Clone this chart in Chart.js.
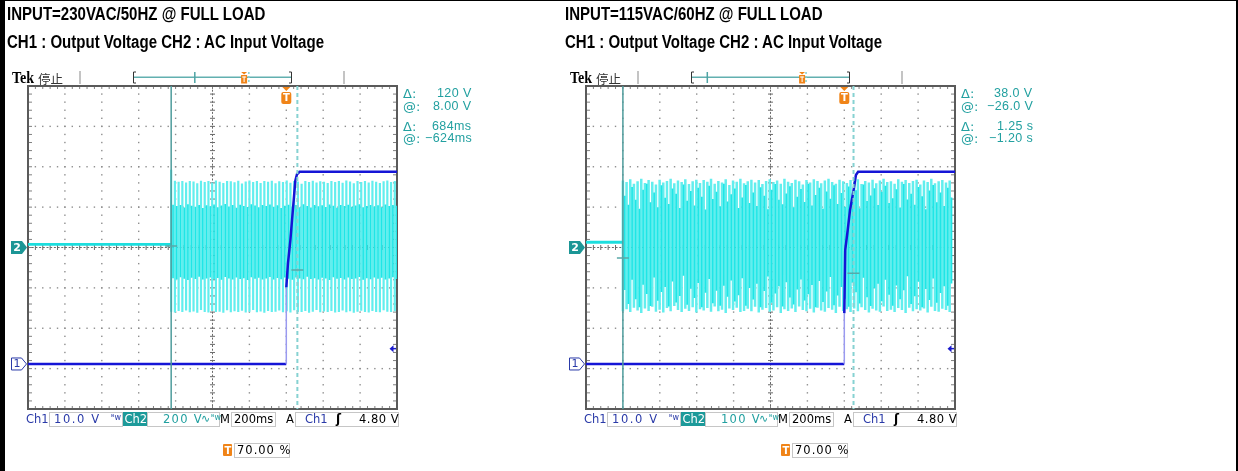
<!DOCTYPE html>
<html>
<head>
<meta charset="utf-8">
<title>Scope captures</title>
<script src="https://cdn.jsdelivr.net/npm/chart.js@4.4.0/dist/chart.umd.min.js"></script>
<style>
  html, body { margin: 0; padding: 0; background: #fff; }
  #page { position: relative; width: 1238px; height: 471px; overflow: hidden; background: #fff; }
  .panel { position: absolute; top: 0; height: 471px; }
  .panel canvas { position: absolute; left: 0; top: 0; }
  .t { position: absolute; white-space: nowrap; font-family: "DejaVu Sans", sans-serif; }
  .box { position: absolute; border: 1px solid #c6c6c6; box-sizing: border-box; }
  .edge { position: absolute; background: #000; }
</style>
</head>
<body>
<div id="page">
  <div class="panel" id="panel1" style="left:0;width:558px"><canvas id="scope1" width="558" height="471"></canvas></div>
  <div class="panel" id="panel2" style="left:558px;width:680px"><canvas id="scope2" width="680" height="471"></canvas></div>
  <div class="edge" style="left:0;top:0;width:5px;height:471px"></div>
  <div class="edge" style="left:0;top:0;width:1238px;height:1px"></div>
  <div class="edge" style="left:1236px;top:0;width:2px;height:471px"></div>
</div>
<script>
// time axis, 200ms/div, trigger at 70%
const timeTicks = [-1.4, -1.2, -1.0, -0.8, -0.6, -0.4, -0.2, 0, 0.2, 0.4, 0.6];
const ch2Ticks230 = [-800, -600, -400, -200, 0, 200, 400, 600, 800];
const ch2Ticks115 = [-400, -300, -200, -100, 0, 100, 200, 300, 400];
const ch1Range = [-11.15, 68.85]; // 10V/div, ground marker 1.1 div above bottom

// CH1 output voltage (V)
const ch1Time230 = [-1.4, 0, 0, 0.009, 0.022, 0.031, 0.040, 0.049, 0.058, 0.072, 0.6];
const ch1Volt230 = [0, 0, 19, 24.9, 30.6, 35.6, 40.5, 45.4, 47.0, 47.6, 47.6];
const ch1Time115 = [-1.4, 0, 0, 0.005, 0.018, 0.031, 0.050, 0.063, 0.075, 0.6];
const ch1Volt115 = [0, 0, 12.6, 28.2, 33, 38.1, 43, 46.8, 47.6, 47.6];

// CH2 before AC is applied (V)
const ch2IdleTime230 = [-1.4, -0.624];
const ch2IdleVolt230 = [15, 15];
const ch2IdleTime115 = [-1.4, -1.2];
const ch2IdleVolt115 = [13, 13];

// CH2 AC input, displayed sample stripes (peak values in V)
const acStart230 = -0.624, acStep230 = 0.0202;
const acTop230 = [385, 331, 326, 329, 322, 330, 327, 318, 331, 325,
  329, 322, 332, 326, 319, 330, 328, 323, 331, 317,
  327, 332, 324, 329, 320, 330, 326, 331, 318, 328,
  325, 332, 321, 329, 327, 316, 330, 324, 331, 322,
  328, 326, 319, 330, 325, 329, 321, 332, 327, 318,
  330, 324, 329, 322, 331, 326, 320, 328, 332, 325, 329];
const acBottom230 = [-318, -322, -315, -320, -312, -321, -317, -323, -310, -319,
  -322, -314, -320, -318, -323, -311, -321, -316, -320, -313,
  -322, -318, -309, -321, -317, -323, -314, -320, -318, -312,
  -321, -316, -322, -311, -319, -320, -315, -323, -318, -310,
  -321, -317, -320, -314, -322, -319, -312, -321, -316, -323,
  -318, -313, -320, -322, -315, -319, -321, -311, -318, -320, -316];
const acInnerTop230 = [212, 205, 210, 198, 214, 207, 202, 211, 196, 209,
  204, 213, 200, 208, 215, 203, 210, 197, 212, 206,
  201, 214, 208, 199, 211, 205, 213, 202, 209, 196,
  207, 212, 203, 210, 200, 214, 206, 198, 211, 204,
  209, 201, 213, 207, 197, 210, 205, 212, 202, 208,
  214, 199, 206, 211, 203, 209, 200, 213, 205, 210, 207];
const acInnerBottom230 = [-152, -158, -147, -155, -161, -150, -156, -145, -159, -153,
  -148, -157, -151, -160, -146, -154, -158, -149, -156, -152,
  -161, -147, -155, -150, -158, -153, -146, -159, -151, -157,
  -149, -155, -160, -148, -153, -157, -145, -156, -152, -159,
  -150, -154, -161, -147, -155, -151, -158, -149, -156, -153,
  -146, -160, -152, -157, -148, -155, -150, -159, -154, -147, -156];

const acStart115 = -1.2, acStep115 = 0.0199;
const acTop115 = [166, 162, 169, 158, 164, 170, 160, 167, 163, 156,
  168, 161, 165, 170, 159, 166, 162, 169, 157, 164,
  168, 160, 167, 163, 170, 158, 165, 161, 169, 155,
  166, 163, 170, 159, 164, 168, 161, 167, 157, 165,
  169, 162, 166, 158, 170, 163, 160, 168, 164, 156,
  167, 161, 169, 165, 159, 166, 170, 162, 158, 168,
  164, 160, 167, 163, 169, 157, 165, 161, 168, 159,
  166, 170, 162, 164, 158, 169, 163, 167, 160, 165,
  168, 156, 166, 162, 170, 159, 164, 167, 161, 166];
const acBottom115 = [-158, -153, -160, -149, -156, -162, -151, -157, -147, -159,
  -154, -161, -150, -158, -145, -155, -160, -152, -157, -148,
  -161, -153, -156, -150, -159, -146, -158, -154, -162, -151,
  -155, -149, -160, -157, -152, -158, -147, -161, -154, -150,
  -159, -156, -148, -162, -153, -157, -151, -160, -146, -155,
  -158, -152, -161, -149, -156, -159, -150, -154, -162, -147,
  -157, -153, -160, -151, -158, -148, -155, -161, -152, -156,
  -159, -146, -157, -154, -160, -150, -155, -162, -149, -158,
  -153, -156, -151, -161, -147, -157, -159, -152, -155, -160];
const acInnerTop115 = [128, 106, 150, 118, 96, 143, 158, 112, 136, 100,
  154, 123, 108, 146, 133, 98, 156, 116, 140, 104,
  148, 126, 94, 153, 120, 138, 102, 158, 114, 132,
  146, 98, 124, 155, 110, 136, 103, 149, 128, 95,
  143, 157, 118, 107, 134, 152, 100, 126, 145, 113,
  158, 104, 130, 148, 96, 139, 121, 154, 108, 135,
  101, 151, 125, 142, 97, 156, 115, 129, 147, 105,
  138, 153, 110, 122, 144, 99, 157, 119, 133, 106,
  150, 127, 95, 141, 155, 112, 136, 103, 148, 124];
const acInnerBottom115 = [-105, -140, -80, -128, -148, -92, -115, -145, -74, -132,
  -110, -98, -146, -84, -136, -120, -70, -142, -102, -125,
  -88, -148, -112, -78, -138, -107, -144, -95, -122, -82,
  -134, -118, -76, -144, -100, -129, -90, -148, -108, -72,
  -137, -114, -96, -146, -86, -124, -141, -104, -79, -131,
  -116, -93, -148, -83, -135, -109, -73, -143, -119, -98,
  -127, -147, -87, -111, -139, -75, -123, -145, -101, -90,
  -133, -80, -117, -144, -94, -128, -106, -71, -140, -121,
  -85, -148, -103, -130, -77, -137, -113, -96, -144, -89];

// cursors: time of bar 1 / bar 2, and waveform value marks
const cursorTime230 = [-0.624, 0.060];
const cursorVolt230 = [8, -112];
const cursorTime115 = [-1.20, 0.05];
const cursorVolt115 = [-26, -64];
const trigLevelMark = 3.8;

// texts
const titles230 = ['INPUT=230VAC/50HZ @ FULL LOAD', 'CH1 : Output Voltage CH2 : AC Input Voltage'];
const titles115 = ['INPUT=115VAC/60HZ @ FULL LOAD', 'CH1 : Output Voltage CH2 : AC Input Voltage'];
const readoutLabels = ['Δ:', '@:', 'Δ:', '@:'];
const readout230 = ['120 V', '8.00 V', '684ms', '−624ms'];
const readout115 = ['38.0 V', '−26.0 V', '1.25 s', '−1.20 s'];
const ch1ScaleText = '10.0 V';
const timeScaleText = '200ms';
const trigText = '4.80 V';
const trigPosText = '70.00 %';

const BLUE = '#2a3aa8', TEAL = '#22a0a0', ORANGE = '#f08418';

function pairs(xs, ys) {
  return xs.map((x, i) => ({x: x, y: ys[i]}));
}
function stripes(t0, dt, tops, bottoms) {
  const pts = [];
  const n = Math.min(tops.length, bottoms.length);
  for (let i = 0; i < n; i++) {
    const t = t0 + i * dt;
    pts.push({x: t, y: tops[i]}, {x: t, y: bottoms[i]}, {x: t, y: null});
  }
  return pts;
}

// oscilloscope graticule
const scopeGrid = {
  id: 'scopeGrid',
  beforeDatasetsDraw(chart, args, opts) {
    const {ctx, chartArea: a, scales} = chart;
    const xs = timeTicks.map(v => scales.x.getPixelForValue(v));
    const ys = opts.yTicks.map(v => scales.y.getPixelForValue(v));
    const dx = (a.right - a.left) / 50, dy = (a.bottom - a.top) / 40;
    const cx = xs[5], cy = ys[4];
    ctx.save();
    ctx.fillStyle = '#8e8e8e';
    xs.forEach((x, i) => {
      if (i === 0 || i === xs.length - 1 || i === 5) return;
      for (let y = a.top; y <= a.bottom + 0.5; y += dy) ctx.fillRect(x - 0.7, y - 0.7, 1.4, 1.4);
    });
    ys.forEach((y, i) => {
      if (i === 0 || i === ys.length - 1 || i === 4) return;
      for (let x = a.left; x <= a.right + 0.5; x += dx) ctx.fillRect(x - 0.7, y - 0.7, 1.4, 1.4);
    });
    // centre cross
    ctx.strokeStyle = '#6a6a6a';
    ctx.lineWidth = 1;
    ctx.setLineDash([2, 1.7]);
    ctx.beginPath();
    ctx.moveTo(a.left, cy); ctx.lineTo(a.right, cy);
    ctx.moveTo(cx, a.top); ctx.lineTo(cx, a.bottom);
    ctx.stroke();
    ctx.setLineDash([]);
    ctx.beginPath();
    for (let x = a.left; x <= a.right + 0.5; x += dx) { ctx.moveTo(x, cy - 2.5); ctx.lineTo(x, cy + 2.5); }
    for (let y = a.top; y <= a.bottom + 0.5; y += dy) { ctx.moveTo(cx - 2.5, y); ctx.lineTo(cx + 2.5, y); }
    ctx.stroke();
    // frame ticks
    ctx.strokeStyle = '#808080';
    ctx.beginPath();
    for (let x = a.left; x <= a.right + 0.5; x += dx) {
      ctx.moveTo(x, a.top); ctx.lineTo(x, a.top + 3);
      ctx.moveTo(x, a.bottom); ctx.lineTo(x, a.bottom - 3);
    }
    for (let y = a.top; y <= a.bottom + 0.5; y += dy) {
      ctx.moveTo(a.left, y); ctx.lineTo(a.left + 4, y);
      ctx.moveTo(a.right, y); ctx.lineTo(a.right - 4, y);
    }
    ctx.stroke();
    ctx.strokeStyle = '#5a5a5a';
    ctx.lineWidth = 2;
    ctx.strokeRect(a.left, a.top, a.right - a.left, a.bottom - a.top);
    ctx.restore();
  }
};

// cursors, markers and record bar
const scopeDecor = {
  id: 'scopeDecor',
  afterDatasetsDraw(chart, args, opts) {
    const {ctx, chartArea: a, scales} = chart;
    const c1 = scales.x.getPixelForValue(opts.cursorTime[0]);
    const c2 = scales.x.getPixelForValue(opts.cursorTime[1]);
    ctx.save();
    ctx.lineWidth = 1.5;
    ctx.strokeStyle = '#4e9c9c';
    ctx.beginPath(); ctx.moveTo(c1, a.top); ctx.lineTo(c1, a.bottom); ctx.stroke();
    ctx.strokeStyle = '#86d2d2';
    ctx.lineWidth = 2;
    ctx.setLineDash([4, 3]);
    ctx.beginPath(); ctx.moveTo(c2, a.top); ctx.lineTo(c2, a.bottom); ctx.stroke();
    ctx.setLineDash([]);
    ctx.strokeStyle = '#5aa8a8';
    ctx.lineWidth = 1.5;
    ctx.beginPath();
    [c1, c2].forEach((cx, i) => {
      const vy = scales.y.getPixelForValue(opts.cursorVolt[i]);
      ctx.moveTo(cx - 6, vy); ctx.lineTo(cx + 6, vy);
    });
    ctx.stroke();
    ctx.restore();
  },
  afterDraw(chart, args, opts) {
    const {ctx, chartArea: a, scales} = chart;
    const tx = scales.x.getPixelForValue(0);
    const g2 = scales.y.getPixelForValue(0);
    const g1 = scales.y1.getPixelForValue(0);
    const tl = scales.y1.getPixelForValue(trigLevelMark);
    ctx.save();
    // trigger position marker
    ctx.fillStyle = ORANGE;
    ctx.beginPath(); ctx.moveTo(tx - 4, a.top + 1); ctx.lineTo(tx + 4, a.top + 1); ctx.lineTo(tx, a.top + 5); ctx.fill();
    ctx.beginPath(); ctx.roundRect(tx - 5, a.top + 6, 10, 12, 2); ctx.fill();
    ctx.fillStyle = '#fff';
    ctx.font = 'bold 10px "DejaVu Sans"';
    ctx.textAlign = 'center'; ctx.textBaseline = 'middle';
    ctx.fillText('T', tx, a.top + 12.5);
    // ch2 ground marker
    ctx.fillStyle = '#1c9696';
    ctx.beginPath();
    ctx.moveTo(11, g2 - 6.5); ctx.lineTo(22, g2 - 6.5); ctx.lineTo(27, g2); ctx.lineTo(22, g2 + 6.5); ctx.lineTo(11, g2 + 6.5);
    ctx.closePath(); ctx.fill();
    ctx.fillStyle = '#fff';
    ctx.font = 'bold 11px "DejaVu Sans"';
    ctx.fillText('2', 17, g2 + 0.5);
    // ch1 ground marker
    ctx.fillStyle = '#fff';
    ctx.strokeStyle = BLUE;
    ctx.lineWidth = 1;
    ctx.beginPath();
    ctx.moveTo(11.5, g1 - 6); ctx.lineTo(21.5, g1 - 6); ctx.lineTo(26.5, g1); ctx.lineTo(21.5, g1 + 6); ctx.lineTo(11.5, g1 + 6);
    ctx.closePath(); ctx.fill(); ctx.stroke();
    ctx.fillStyle = BLUE;
    ctx.font = '11px "DejaVu Sans"';
    ctx.fillText('1', 17, g1 + 0.5);
    // trigger level arrow
    ctx.fillStyle = '#1a1acc';
    ctx.beginPath(); ctx.moveTo(a.right - 7.5, tl); ctx.lineTo(a.right - 3.5, tl - 3.5); ctx.lineTo(a.right - 3.5, tl + 3.5); ctx.fill();
    ctx.fillRect(a.right - 4, tl - 0.75, 3, 1.5);
    // record bar on top
    const bl = 133.5, br = 291.5;
    const rec = px => bl + (px - a.left) / (a.right - a.left) * (br - bl);
    ctx.fillStyle = '#c4c4c4';
    ctx.fillRect(79, 71, 2, 13);
    ctx.fillRect(343, 71, 2, 13);
    ctx.fillStyle = '#62b0b0';
    ctx.fillRect(bl, 76.5, br - bl, 1.5);
    ctx.strokeStyle = '#333';
    ctx.lineWidth = 1;
    ctx.beginPath();
    ctx.moveTo(bl + 2.5, 72); ctx.lineTo(bl, 72); ctx.lineTo(bl, 83); ctx.lineTo(bl + 2.5, 83);
    ctx.moveTo(br - 2.5, 72); ctx.lineTo(br, 72); ctx.lineTo(br, 83); ctx.lineTo(br - 2.5, 83);
    ctx.stroke();
    const r1 = rec(scales.x.getPixelForValue(opts.cursorTime[0]));
    const r2 = rec(scales.x.getPixelForValue(opts.cursorTime[1]));
    const rt = rec(tx);
    ctx.fillStyle = '#4fa4a4';
    ctx.fillRect(r1 - 0.75, 72, 1.5, 11);
    ctx.strokeStyle = '#86d2d2';
    ctx.lineWidth = 1.5;
    ctx.setLineDash([2, 2]);
    ctx.beginPath(); ctx.moveTo(r2, 72); ctx.lineTo(r2, 84); ctx.stroke();
    ctx.setLineDash([]);
    ctx.fillStyle = ORANGE;
    ctx.beginPath(); ctx.moveTo(rt - 3, 72); ctx.lineTo(rt + 3, 72); ctx.lineTo(rt, 74.5); ctx.fill();
    ctx.fillRect(rt - 3, 75, 6, 8.5);
    ctx.fillStyle = '#fff';
    ctx.fillRect(rt - 2, 76.5, 4, 1);
    ctx.fillRect(rt - 0.5, 76.5, 1, 5.5);
    ctx.restore();
  }
};

function makeScope(id, s) {
  return new Chart(document.getElementById(id), {
    type: 'scatter',
    data: {
      datasets: [
        {
          label: 'CH1 Output Voltage',
          data: pairs(s.ch1Time, s.ch1Volt),
          yAxisID: 'y1',
          showLine: true,
          borderColor: '#1515d6',
          borderWidth: 2.5,
          pointRadius: 0,
          order: 0,
          segment: {
            borderColor: c => (c.p0.parsed.x === c.p1.parsed.x ? '#9a9af0' : undefined),
            borderWidth: c => (c.p0.parsed.x === c.p1.parsed.x ? 1.5 : undefined)
          }
        },
        {
          label: 'CH2 idle',
          data: pairs(s.idleTime, s.idleVolt),
          yAxisID: 'y',
          showLine: true,
          borderColor: '#1cdede',
          borderWidth: 2.8,
          pointRadius: 0,
          order: 1
        },
        {
          label: 'CH2 AC inner',
          data: stripes(s.acStart + s.acStep / 2, s.acStep, s.innerTop, s.innerBottom),
          yAxisID: 'y',
          showLine: true,
          spanGaps: false,
          borderColor: '#1fe6e6',
          borderWidth: 1.7,
          pointRadius: 0,
          order: 2
        },
        {
          label: 'CH2 AC Input Voltage',
          data: stripes(s.acStart, s.acStep, s.acTop, s.acBottom),
          yAxisID: 'y',
          showLine: true,
          spanGaps: false,
          borderColor: '#62eeee',
          borderWidth: s.outerWidth,
          pointRadius: 0,
          order: 3
        }
      ]
    },
    options: {
      responsive: false,
      animation: false,
      devicePixelRatio: 1,
      events: [],
      layout: { padding: s.padding },
      scales: {
        x: { type: 'linear', display: false, min: timeTicks[0], max: timeTicks[timeTicks.length - 1] },
        y: { type: 'linear', display: false, min: s.yTicks[0], max: s.yTicks[s.yTicks.length - 1] },
        y1: { type: 'linear', display: false, min: ch1Range[0], max: ch1Range[1] }
      },
      plugins: {
        legend: { display: false },
        tooltip: { enabled: false },
        scopeGrid: { yTicks: s.yTicks },
        scopeDecor: { cursorTime: s.cursorTime, cursorVolt: s.cursorVolt }
      }
    },
    plugins: [scopeGrid, scopeDecor]
  });
}

makeScope('scope1', {
  ch1Time: ch1Time230, ch1Volt: ch1Volt230,
  idleTime: ch2IdleTime230, idleVolt: ch2IdleVolt230,
  acStart: acStart230, acStep: acStep230,
  acTop: acTop230, acBottom: acBottom230, innerTop: acInnerTop230, innerBottom: acInnerBottom230,
  yTicks: ch2Ticks230, cursorTime: cursorTime230, cursorVolt: cursorVolt230, outerWidth: 2.2,
  padding: { left: 28, top: 86, right: 558 - 397, bottom: 471 - 409 }
});
makeScope('scope2', {
  ch1Time: ch1Time115, ch1Volt: ch1Volt115,
  idleTime: ch2IdleTime115, idleVolt: ch2IdleVolt115,
  acStart: acStart115, acStep: acStep115,
  acTop: acTop115, acBottom: acBottom115, innerTop: acInnerTop115, innerBottom: acInnerBottom115,
  yTicks: ch2Ticks115, cursorTime: cursorTime115, cursorVolt: cursorVolt115, outerWidth: 2.5,
  padding: { left: 28, top: 86, right: 680 - 397, bottom: 471 - 409 }
});

// ---- text overlays ----
function addText(panel, txt, x, base, size, color, extra) {
  const el = document.createElement('span');
  el.className = 't';
  el.textContent = txt;
  el.style.fontSize = size + 'px';
  el.style.lineHeight = size + 'px';
  el.style.color = color;
  el.style.left = x + 'px';
  el.style.top = (base - 0.846 * size) + 'px';
  Object.assign(el.style, extra || {});
  panel.appendChild(el);
  return el;
}
function addBox(panel, x, y, w, h, extra) {
  const el = document.createElement('div');
  el.className = 'box';
  Object.assign(el.style, { left: x + 'px', top: y + 'px', width: w + 'px', height: h + 'px' }, extra || {});
  panel.appendChild(el);
  return el;
}

function fillPanel(panel, titles, readout, ch2ScaleText, valueRight) {
  const titleStyle = { fontFamily: '"Liberation Sans", Arial, sans-serif', fontWeight: 'bold', transform: 'scaleX(0.835)', transformOrigin: 'left' };
  addText(panel, titles[0], 7, 20, 18, '#000', titleStyle);
  addText(panel, titles[1], 7, 48, 18, '#000', titleStyle);
  addText(panel, 'Tek', 12, 83.5, 16, '#000', { fontFamily: '"Liberation Serif", serif', fontWeight: 'bold', transform: 'scaleX(0.88)', transformOrigin: 'left' });
  addText(panel, '停止', 38, 83.5, 12.5, '#333', { fontFamily: '"Noto Sans CJK SC", sans-serif' });

  const bases = [97.5, 110.5, 130.5, 143];
  readoutLabels.forEach((lab, i) => {
    addText(panel, lab, 403, bases[i], 13, TEAL);
    const v = addText(panel, readout[i], 0, bases[i], 12.5, TEAL, { fontFamily: '"Liberation Sans", Arial, sans-serif', letterSpacing: '0.4px' });
    v.style.left = (valueRight - v.offsetWidth) + 'px';
  });

  // bottom status bar
  addText(panel, 'Ch1', 26, 423.5, 11.5, BLUE);
  addBox(panel, 49, 412, 74, 15);
  addText(panel, ch1ScaleText, 54, 423.5, 11.5, BLUE, { letterSpacing: '1.6px' });
  addText(panel, 'ᴮw', 111, 421, 8, BLUE);
  addBox(panel, 123, 412, 24, 14, { background: '#1d9a9a', border: 'none' });
  addText(panel, 'Ch2', 124.5, 423.5, 11.5, '#fff');
  addBox(panel, 147, 412, 73, 15);
  addText(panel, ch2ScaleText, 163, 423.5, 11.5, TEAL, { letterSpacing: '1.3px' });
  addText(panel, '∿', 201, 422, 11, TEAL);
  addText(panel, 'ᴮw', 211, 421, 8, TEAL);
  addText(panel, 'M', 220, 423.5, 11.5, '#000');
  addBox(panel, 231, 412, 45, 15);
  addText(panel, timeScaleText, 234, 423.5, 11.5, '#000');
  addText(panel, 'A', 286, 423.5, 11.5, '#000');
  addBox(panel, 295, 412, 104, 15);
  addText(panel, 'Ch1', 305, 423.5, 11.5, BLUE);
  addText(panel, 'ʃ', 336, 423.5, 12, '#000', { fontWeight: 'bold' });
  addText(panel, trigText, 359, 423.5, 11.5, '#000', { letterSpacing: '0.5px' });
  addBox(panel, 223, 444, 9, 12, { background: ORANGE, border: 'none', borderRadius: '1px' });
  addText(panel, 'T', 224.5, 454, 10, '#fff', { fontWeight: 'bold' });
  addBox(panel, 234, 443, 56, 15);
  addText(panel, trigPosText, 237, 454.5, 11.5, '#000', { letterSpacing: '1px' });
}

fillPanel(document.getElementById('panel1'), titles230, readout230, '200 V', 472);
fillPanel(document.getElementById('panel2'), titles115, readout115, '100 V', 475);
</script>
</body>
</html>
